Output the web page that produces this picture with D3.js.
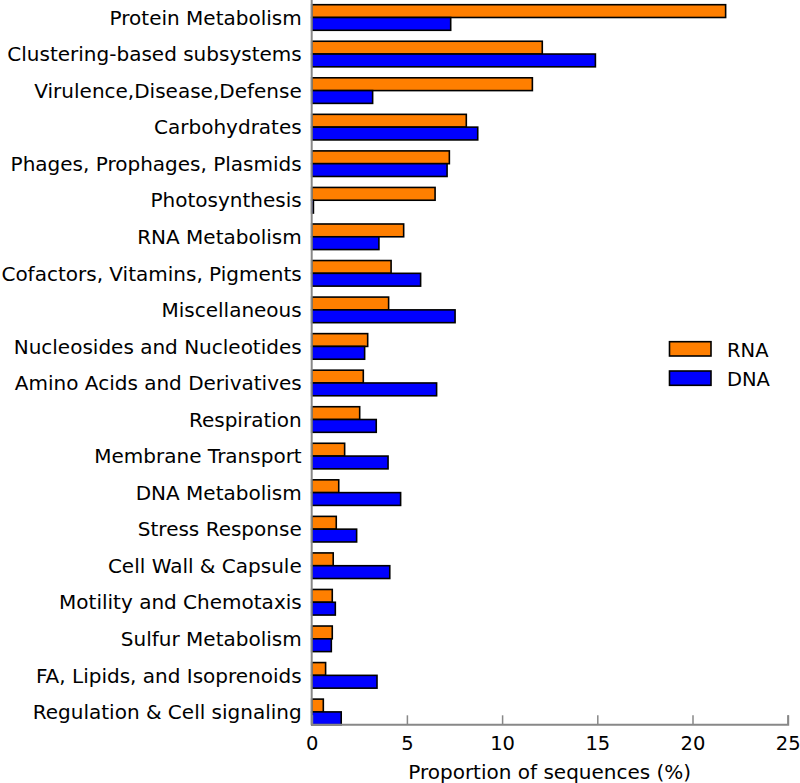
<!DOCTYPE html>
<html><head><meta charset="utf-8">
<script src="https://cdn.jsdelivr.net/npm/d3@7"></script>
<style>body{margin:0;background:#fff}svg{display:block;font-family:"DejaVu Sans",sans-serif}</style>
</head><body><svg id="c" width="800" height="783"></svg>
<script>
const categories = ["Protein Metabolism","Clustering-based subsystems","Virulence,Disease,Defense","Carbohydrates","Phages, Prophages, Plasmids","Photosynthesis","RNA Metabolism","Cofactors, Vitamins, Pigments","Miscellaneous","Nucleosides and Nucleotides","Amino Acids and Derivatives","Respiration","Membrane Transport","DNA Metabolism","Stress Response","Cell Wall & Capsule","Motility and Chemotaxis","Sulfur Metabolism","FA, Lipids, and Isoprenoids","Regulation & Cell signaling"];
const rnaValues = [21.74,12.11,11.59,8.12,7.23,6.48,4.83,4.17,4.04,2.94,2.71,2.52,1.73,1.42,1.29,1.13,1.08,1.08,0.73,0.61];
const dnaValues = [7.30,14.90,3.20,8.72,7.11,0.09,3.53,5.72,7.53,2.78,6.56,3.39,4.01,4.67,2.36,4.10,1.24,1.03,3.43,1.55];
const seriesNames = ["RNA","DNA"];
const seriesColors = ["#ff7f00","#0000ff"];
const xTicks = [0,5,10,15,20,25];
const xLabel = "Proportion of sequences (%)";

const svg = d3.select("#c");
const x = d3.scaleLinear().domain([0,25]).range([311.7,787.7]);
const y = d3.scaleBand().domain(categories).range([4.7,724.7]).paddingInner(0.3).paddingOuter(0);
const y1 = d3.scaleBand().domain(seriesNames).range([0,y.bandwidth()]);
const data = categories.map((c,i)=>({c, vals:[rnaValues[i],dnaValues[i]]}));

const g = svg.append("g");
data.forEach(d=>{
  seriesNames.forEach((s,j)=>{
    g.append("rect")
      .attr("x", x(0))
      .attr("y", y(d.c)+y1(s))
      .attr("width", x(d.vals[j])-x(0))
      .attr("height", y1.bandwidth())
      .attr("fill", seriesColors[j])
      .attr("stroke","#000").attr("stroke-width",1.6);
  });
});

// y axis labels
const yAxis = d3.axisLeft(y).tickSize(0).tickPadding(10);
const ya = svg.append("g").attr("transform",`translate(${x(0)},0)`).call(yAxis);
ya.select(".domain").remove();
ya.selectAll("text").attr("font-size",20).attr("fill","#000").attr("font-family","DejaVu Sans").attr("dy","0.36em");

// spines
svg.append("line").attr("x1",x(0)).attr("x2",x(0)).attr("y1",0).attr("y2",724.7).attr("stroke","#888").attr("stroke-width",2);

const xa = svg.append("g").attr("transform","translate(0,724.3)")
  .call(d3.axisBottom(x).tickValues(xTicks).tickSize(-9).tickPadding(12).tickFormat(d3.format("d")));
xa.select(".domain").attr("stroke","#888").attr("stroke-width",2);
xa.selectAll(".tick line").attr("stroke","#888").attr("stroke-width",1.5);
xa.selectAll("text").attr("font-size",19.5).attr("fill","#000").attr("font-family","DejaVu Sans");

svg.append("text").attr("x",(x(0)+x(25))/2).attr("y",779).attr("text-anchor","middle")
  .attr("font-size",20).text(xLabel);

// legend
const leg = svg.append("g");
seriesNames.forEach((s,j)=>{
  leg.append("rect").attr("x",669.5).attr("y",341.7+j*29.3).attr("width",41.5).attr("height",14.3)
    .attr("fill",seriesColors[j]).attr("stroke","#000").attr("stroke-width",1.6);
  leg.append("text").attr("x",727).attr("y",356.7+j*29).attr("font-size",19.5).text(s);
});
</script></body></html>
